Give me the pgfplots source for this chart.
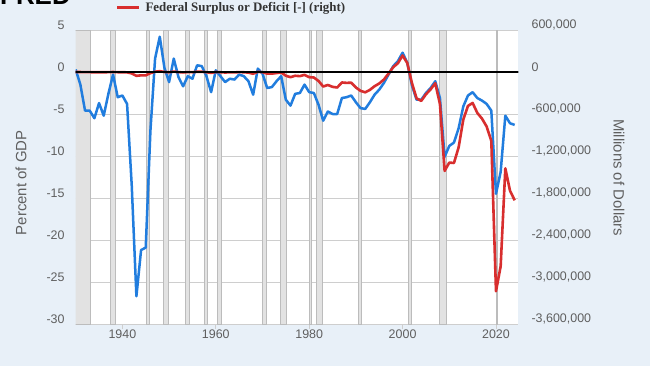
\documentclass[border=0pt]{standalone}
\usepackage{fontspec}
\setmainfont{Liberation Sans}
\newfontfamily\serifb{Liberation Serif}
\usepackage{pgfplots}
\usepackage{pgfplotstable}
\pgfplotsset{compat=1.18}
\definecolor{bgc}{RGB}{232,240,248}
\definecolor{fblue}{RGB}{33,125,222}
\definecolor{fredc}{RGB}{216,46,46}
\definecolor{tgray}{RGB}{95,95,95}
\definecolor{gridc}{RGB}{206,206,206}
\definecolor{bandf}{RGB}{226,226,226}
\definecolor{bandd}{RGB}{188,188,188}

\pgfplotstableread{
year val
1930 0.3
1931 -1.5
1932 -4.6
1933 -4.6
1934 -5.5
1935 -3.7
1936 -5.2
1937 -2.6
1938 -0.3
1939 -3.0
1940 -2.8
1941 -3.8
1942 -13.5
1943 -26.7
1944 -21.2
1945 -20.9
1946 -7.0
1947 1.6
1948 4.2
1949 0.5
1950 -1.2
1951 1.6
1952 -0.6
1953 -1.7
1954 -0.5
1955 -0.8
1956 0.8
1957 0.7
1958 -0.5
1959 -2.4
1960 0.2
1961 -0.5
1962 -1.2
1963 -0.8
1964 -0.9
1965 -0.3
1966 -0.5
1967 -1.1
1968 -2.7
1969 0.4
1970 -0.2
1971 -1.9
1972 -1.8
1973 -1.1
1974 -0.5
1975 -3.3
1976 -4.0
1977 -2.6
1978 -2.5
1979 -1.5
1980 -2.4
1981 -2.5
1982 -3.9
1983 -5.8
1984 -4.7
1985 -5.0
1986 -5.0
1987 -3.1
1988 -3.0
1989 -2.8
1990 -3.6
1991 -4.3
1992 -4.4
1993 -3.6
1994 -2.7
1995 -2.1
1996 -1.3
1997 -0.3
1998 0.7
1999 1.3
2000 2.3
2001 1.1
2002 -1.6
2003 -3.3
2004 -3.3
2005 -2.5
2006 -1.9
2007 -1.1
2008 -3.1
2009 -10.1
2010 -8.8
2011 -8.4
2012 -6.7
2013 -4.1
2014 -2.8
2015 -2.4
2016 -3.1
2017 -3.4
2018 -3.8
2019 -4.6
2020 -14.5
2021 -11.9
2022 -5.2
2023 -6.1
2024 -6.3
}\pctgdp

\pgfplotstableread{
year val
1930 738
1931 -462
1932 -2735
1933 -2602
1934 -3586
1935 -2803
1936 -4304
1937 -2193
1938 -89
1939 -2846
1940 -2920
1941 -4941
1942 -20503
1943 -54554
1944 -47557
1945 -47553
1946 -15936
1947 4018
1948 11796
1949 580
1950 -3119
1951 6102
1952 -1519
1953 -6493
1954 -1154
1955 -2993
1956 3947
1957 3412
1958 -2769
1959 -12849
1960 301
1961 -3335
1962 -7146
1963 -4756
1964 -5915
1965 -1411
1966 -3698
1967 -8643
1968 -25161
1969 3242
1970 -2842
1971 -23033
1972 -23373
1973 -14908
1974 -6135
1975 -53242
1976 -73732
1977 -53659
1978 -59185
1979 -40726
1980 -73830
1981 -78968
1982 -127977
1983 -207802
1984 -185367
1985 -212308
1986 -221227
1987 -149730
1988 -155178
1989 -152639
1990 -221036
1991 -269238
1992 -290321
1993 -255051
1994 -203186
1995 -163952
1996 -107431
1997 -21884
1998 69270
1999 125610
2000 236241
2001 128236
2002 -157758
2003 -377585
2004 -412727
2005 -318346
2006 -248181
2007 -160701
2008 -458553
2009 -1412688
2010 -1294373
2011 -1299599
2012 -1076573
2013 -679775
2014 -484602
2015 -441960
2016 -584651
2017 -665446
2018 -779137
2019 -983948
2020 -3131917
2021 -2775306
2022 -1375905
2023 -1694990
2024 -1832823
}\dollars

\pgfplotsset{
  band/.style={fill=bandf, draw=bandd, line width=0.8bp},
  common/.style={
    at={(75.7bp,-324bp)}, anchor=south west,
    scale only axis, width=442.7bp, height=294bp,
    xmin=1930, xmax=2024.8,
    axis line style={draw=none},
    /pgf/number format/assume math mode=true,
    ticklabel style={font=\fontsize{12.5}{14}\selectfont, text=tgray},
    label style={font=\fontsize{15}{17}\selectfont, text=tgray},
    ytick style={draw=none},
  }
}

\begin{document}
\begin{tikzpicture}
\fill[bgc] (0,0) rectangle (650bp,-366bp);
\useasboundingbox (0,0) rectangle (650bp,-366bp);
\node[anchor=base west, inner sep=0pt, font=\bfseries\fontsize{26}{26}\selectfont] at (0bp,-4bp) {FRED};

\begin{axis}[common,
  ymin=-30, ymax=5,
  axis background/.style={fill=white},
  ytick={-30,-25,-20,-15,-10,-5,0,5},
  xtick={1940,1960,1980,2000,2020},
  xticklabels={1940,1960,1980,2000,2020},
  ymajorgrids, grid style={gridc, line width=0.9bp},
  xtick pos=bottom, ytick pos=left, tick align=outside,
  major tick length=5bp,
  xtick style={draw=gridc, line width=0.9bp},
  yticklabel style={anchor=east, inner sep=0pt, yshift=5bp, xshift=-6bp},
  xticklabel style={inner sep=0pt, yshift=-1bp},
  ylabel={Percent of GDP},
  ylabel style={at={(axis description cs:-0.1236,0.48)}, anchor=center},
]
\addplot[band] coordinates {(1929.6,-30) (1929.6,5) (1933.2,5) (1933.2,-30)} -- cycle;
\addplot[band] coordinates {(1937.4,-30) (1937.4,5) (1938.45,5) (1938.45,-30)} -- cycle;
\addplot[band] coordinates {(1945.1,-30) (1945.1,5) (1945.8,5) (1945.8,-30)} -- cycle;
\addplot[band] coordinates {(1948.85,-30) (1948.85,5) (1949.8,5) (1949.8,-30)} -- cycle;
\addplot[band] coordinates {(1953.55,-30) (1953.55,5) (1954.4,5) (1954.4,-30)} -- cycle;
\addplot[band] coordinates {(1957.6,-30) (1957.6,5) (1958.3,5) (1958.3,-30)} -- cycle;
\addplot[band] coordinates {(1960.3,-30) (1960.3,5) (1961.1,5) (1961.1,-30)} -- cycle;
\addplot[band] coordinates {(1969.95,-30) (1969.95,5) (1970.9,5) (1970.9,-30)} -- cycle;
\addplot[band] coordinates {(1973.85,-30) (1973.85,5) (1975.2,5) (1975.2,-30)} -- cycle;
\addplot[band] coordinates {(1980.05,-30) (1980.05,5) (1980.55,5) (1980.55,-30)} -- cycle;
\addplot[band] coordinates {(1981.55,-30) (1981.55,5) (1982.9,5) (1982.9,-30)} -- cycle;
\addplot[band] coordinates {(1990.55,-30) (1990.55,5) (1991.2,5) (1991.2,-30)} -- cycle;
\addplot[band] coordinates {(2001.2,-30) (2001.2,5) (2001.9,5) (2001.9,-30)} -- cycle;
\addplot[band] coordinates {(2007.95,-30) (2007.95,5) (2009.45,5) (2009.45,-30)} -- cycle;
\addplot[band] coordinates {(2020.1,-30) (2020.1,5) (2020.3,5) (2020.3,-30)} -- cycle;
\addplot[fblue, line width=2.5bp, line join=round] table[x=year, y=val] {\pctgdp};
\end{axis}

\begin{axis}[common,
  ymin=-3600000, ymax=600000,
  hide x axis,
  ytick={-3600000,-3000000,-2400000,-1800000,-1200000,-600000,0,600000},
  scaled y ticks=false,
  /pgf/number format/fixed,
  /pgf/number format/precision=0,
  /pgf/number format/1000 sep={,},
  yticklabel style={anchor=west, inner sep=0pt, yshift=5bp, xshift=13bp},
  ytick pos=right,
  ylabel={Millions of Dollars},
  ylabel style={at={(axis description cs:1.2273,0.498)}, anchor=center, rotate=180},
  legend style={at={(axis description cs:0.0905,1.076)}, anchor=west,
    draw=none, fill=none, inner sep=0pt,
    font=\serifb\bfseries\fontsize{13}{15}\selectfont, text=black!80,
    nodes={inner sep=0pt},
    /tikz/every odd column/.append style={column sep=5bp}},
  legend image code/.code={\draw[#1, line width=2.6bp] (0bp,0bp) -- (22bp,0bp);},
]
\addplot[fredc, line width=2.6bp, line join=round] table[x=year, y=val] {\dollars};
\addlegendentry{Federal Surplus or Deficit [-] (right)}
\addplot[black, line width=1.4bp, forget plot] coordinates {(1925,0) (2030,0)};
\end{axis}
\end{tikzpicture}
\end{document}
